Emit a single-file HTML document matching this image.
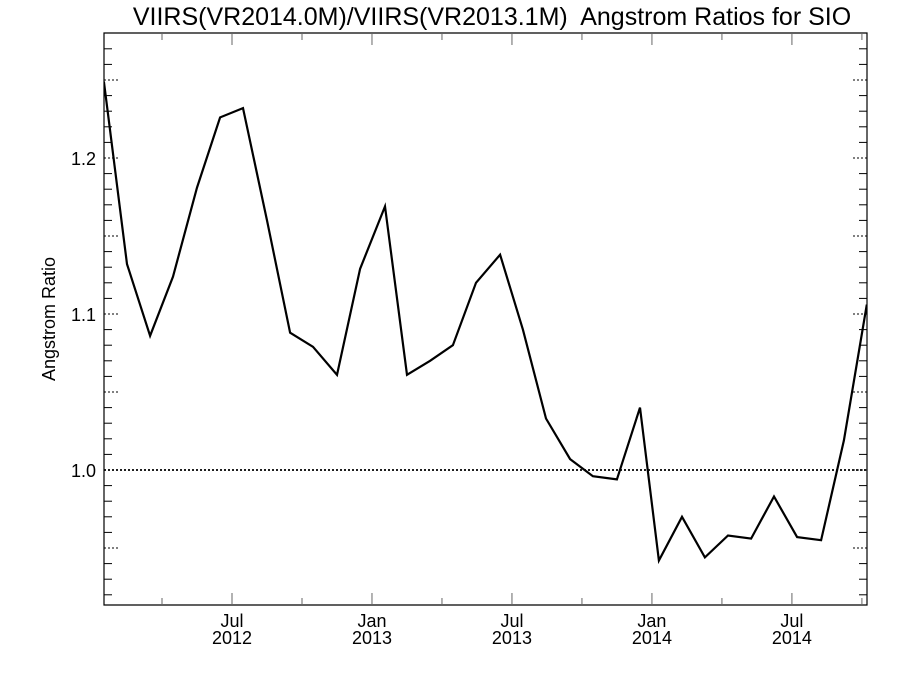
<!DOCTYPE html>
<html><head><meta charset="utf-8"><style>
body{margin:0;background:#fff}
svg text{font-family:"Liberation Sans",sans-serif;fill:#000}
</style></head><body>
<svg id="chart" width="900" height="675" xmlns="http://www.w3.org/2000/svg">
<text x="492" y="25" font-size="25" text-anchor="middle" style="white-space:pre">VIIRS(VR2014.0M)/VIIRS(VR2013.1M)  Angstrom Ratios for SIO</text>
<text transform="translate(55,319) rotate(-90)" font-size="18" text-anchor="middle">Angstrom Ratio</text>
<g id="axes"></g>
<g id="marks"></g>
</svg>
<script>
// months since Jan 2012 (0 = Jan 1 2012)
const months=[0.51,1.50,2.49,3.47,4.50,5.49,6.47,7.50,8.49,9.47,10.50,11.49,12.56,13.50,14.49,15.47,16.46,17.49,18.47,19.46,20.49,21.47,22.50,23.49,24.30,25.29,26.27,27.26,28.25,29.23,30.22,31.25,32.23,33.21];
const ratios=[1.249,1.132,1.086,1.124,1.181,1.226,1.232,1.16,1.088,1.079,1.061,1.129,1.169,1.061,1.07,1.08,1.12,1.138,1.09,1.033,1.007,0.996,0.994,1.040,0.942,0.970,0.944,0.958,0.956,0.983,0.957,0.955,1.019,1.106];
const yTickLabels=["1.0","1.1","1.2"];
const yTickValues=[1.0,1.1,1.2];
const xTickMonths=[6,12,18,24,30];
const xTickLabels=[["Jul","2012"],["Jan","2013"],["Jul","2013"],["Jan","2014"],["Jul","2014"]];
const refValue=1.0;

const L=104,R=867,T=33,B=605;
const x=m=>232+(m-6)*23.33;
const y=v=>470-(v-1.0)*1560;
const NS="http://www.w3.org/2000/svg";
function mk(tag,attrs,parent){const e=document.createElementNS(NS,tag);for(const k in attrs)e.setAttribute(k,attrs[k]);parent.appendChild(e);return e;}
const ax=document.getElementById('axes'),mg=document.getElementById('marks');
const fr=mk('path',{d:`M${L},${T}H${R}V${B}H${L}Z`,fill:'none',stroke:'#000','stroke-width':1.2},ax);


for(let v=0.92;v<=1.28;v+=0.01){
  const yy=y(v); if(yy<T||yy>B)continue;
  const r=Math.round(v*100);
  const major=r%5===0;
  const len=major?15:8;
  const t1=mk('line',{x1:L,x2:L+len,y1:yy,y2:yy,stroke:'#000','stroke-width':1,'stroke-dasharray':major?'2,2':'none'},ax);
  
  
  const t2=mk('line',{x1:R,x2:R-len,y1:yy,y2:yy,stroke:'#000','stroke-width':1,'stroke-dasharray':major?'2,2':'none'},ax);
  
  
}
yTickValues.forEach((v,i)=>{
  const t=mk('text',{x:L-8,y:y(v)+7,'font-size':18,'text-anchor':'end'},ax);
  t.textContent=yTickLabels[i];
  
  
});
for(let m=0;m<=36;m+=3){
  const xx=x(m); if(xx<=L||xx>=R)continue;
  const major=m%6===0, len=major?12:7;
  const a=mk('line',{x1:xx,x2:xx,y1:B,y2:B-len,stroke:'#666','stroke-width':1},ax);
  
  
  const b=mk('line',{x1:xx,x2:xx,y1:T,y2:T+len,stroke:'#666','stroke-width':1},ax);
  
  
}
xTickMonths.forEach((m,i)=>{
  const t1=mk('text',{x:x(m),y:B+22,'font-size':18,'text-anchor':'middle'},ax);
  t1.textContent=xTickLabels[i][0];
  
  
  const t2=mk('text',{x:x(m),y:B+39,'font-size':18,'text-anchor':'middle'},ax);
  t2.textContent=xTickLabels[i][1];
  
  
});
const rl=mk('line',{x1:L,x2:R,y1:y(refValue),y2:y(refValue),stroke:'#000','stroke-width':1.8,'stroke-dasharray':'2,2'},mg);


const cp=mk('clipPath',{id:'clip'},mg);
mk('rect',{x:L,y:T,width:R-L,height:B-T},cp);
const pts=months.map((m,i)=>x(m).toFixed(1)+','+y(ratios[i]).toFixed(1)).join(' ');
const pl=mk('polyline',{points:pts,fill:'none',stroke:'#000','stroke-width':2.2,'stroke-linejoin':'miter','clip-path':'url(#clip)'},mg);


</script>
</body></html>
